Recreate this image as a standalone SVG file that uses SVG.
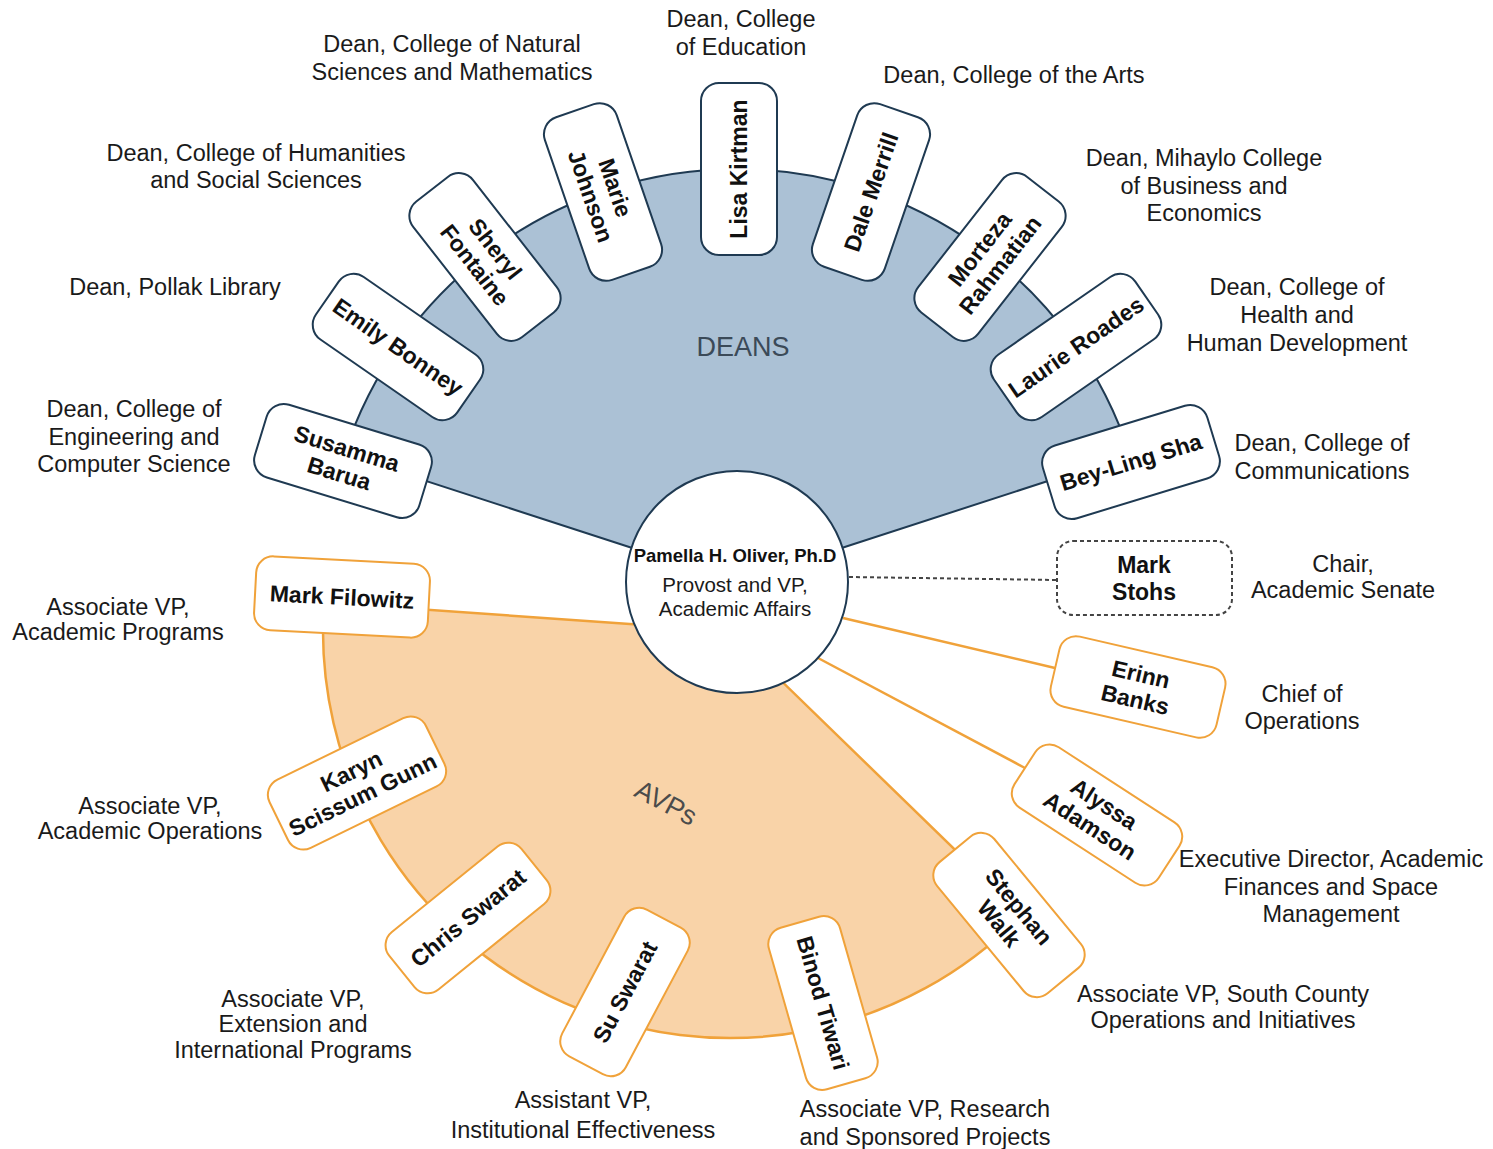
<svg xmlns="http://www.w3.org/2000/svg" width="1493" height="1149" viewBox="0 0 1493 1149">
<style>
.lbl{font-family:"Liberation Sans",Arial,sans-serif;font-size:23.5px;fill:#1a1a1a;text-anchor:middle}
.nm{font-family:"Liberation Sans",Arial,sans-serif;font-size:23px;font-weight:bold;fill:#111;text-anchor:middle}
.dean rect{fill:#fff;stroke:#1f3a52;stroke-width:2}
.avp rect{fill:#fff;stroke:#f0a23a;stroke-width:2}
.sect{font-family:"Liberation Sans",Arial,sans-serif;font-size:27px;text-anchor:middle}
</style>
<rect width="1493" height="1149" fill="#fff"/>
<g id="fans">
<path d="M737,582 L344.2,454.4 A413,413 0 0 1 1129.8,454.4 Z" fill="#abc1d5" stroke="#1f3a52" stroke-width="2"/>
<path d="M730,631 L324,602.6 A407,407 0 0 0 1021.8,914.8 Z" fill="#f9d3a8" stroke="#f0a23a" stroke-width="2.5"/>
<text class="sect" x="743" y="356" fill="#3b4a58">DEANS</text>
<text class="sect" transform="translate(666,803) rotate(28)" y="9" fill="#4b4b4b">AVPs</text>
</g>
<g id="connectors">
<line x1="843" y1="618" x2="1055" y2="668" stroke="#f0a23a" stroke-width="2.5"/>
<line x1="818" y1="658" x2="1025" y2="768" stroke="#f0a23a" stroke-width="2.5"/>
<line x1="849" y1="577" x2="1057" y2="580" stroke="#444" stroke-width="2" stroke-dasharray="4 3"/>
</g>
<g id="provost">
<circle cx="737" cy="582" r="111" fill="#fff" stroke="#1f3a52" stroke-width="2"/>
<text class="nm" x="735" y="562" style="font-size:18.5px">Pamella H. Oliver, Ph.D</text>
<text class="lbl" x="735" y="592" style="font-size:20.5px">Provost and VP,</text>
<text class="lbl" x="735" y="616" style="font-size:20.5px">Academic Affairs</text>
</g>
<g id="lisa-kirtman" class="dean" transform="translate(739,169) rotate(-90)"><rect x="-86" y="-38" width="172" height="76" rx="18"/><text class="nm" y="8">Lisa Kirtman</text></g>
<g id="marie-johnson" class="dean" transform="translate(603,192) rotate(71)"><rect x="-86" y="-38" width="172" height="76" rx="18"/><text class="nm" y="-5">Marie</text><text class="nm" y="21">Johnson</text></g>
<g id="sheryl-fontaine" class="dean" transform="translate(485,257) rotate(52)"><rect x="-86" y="-38" width="172" height="76" rx="18"/><text class="nm" y="-5">Sheryl</text><text class="nm" y="21">Fontaine</text></g>
<g id="emily-bonney" class="dean" transform="translate(398,347) rotate(34.7)"><rect x="-86" y="-38" width="172" height="76" rx="18"/><text class="nm" y="8">Emily Bonney</text></g>
<g id="susamma-barua" class="dean" transform="translate(343,461) rotate(17)"><rect x="-86" y="-38" width="172" height="76" rx="18"/><text class="nm" y="-5">Susamma</text><text class="nm" y="21">Barua</text></g>
<g id="dale-merrill" class="dean" transform="translate(871,192) rotate(-71)"><rect x="-86" y="-38" width="172" height="76" rx="18"/><text class="nm" y="8">Dale Merrill</text></g>
<g id="morteza-rahmatian" class="dean" transform="translate(990,257) rotate(-52)"><rect x="-86" y="-38" width="172" height="76" rx="18"/><text class="nm" y="-5">Morteza</text><text class="nm" y="21">Rahmatian</text></g>
<g id="laurie-roades" class="dean" transform="translate(1076,347) rotate(-34.7)"><rect x="-86" y="-38" width="172" height="76" rx="18"/><text class="nm" y="8">Laurie Roades</text></g>
<g id="bey-ling-sha" class="dean" transform="translate(1131,462) rotate(-17)"><rect x="-86" y="-38" width="172" height="76" rx="18"/><text class="nm" y="8">Bey-Ling Sha</text></g>
<g id="mark-filowitz" class="avp" transform="translate(342,597) rotate(3)"><rect x="-87" y="-37" width="174" height="74" rx="17"/><text class="nm" y="8">Mark Filowitz</text></g>
<g id="karyn-scissum-gunn" class="avp" transform="translate(357,783) rotate(-26)"><rect x="-87" y="-38" width="174" height="76" rx="17"/><text class="nm" y="-5">Karyn</text><text class="nm" y="21">Scissum Gunn</text></g>
<g id="chris-swarat" class="avp" transform="translate(468,918) rotate(-39)"><rect x="-85" y="-37" width="170" height="74" rx="17"/><text class="nm" y="8">Chris Swarat</text></g>
<g id="su-swarat" class="avp" transform="translate(625,992) rotate(-62)"><rect x="-83" y="-36" width="166" height="72" rx="17"/><text class="nm" y="8">Su Swarat</text></g>
<g id="binod-tiwari" class="avp" transform="translate(823,1003) rotate(74)"><rect x="-84" y="-37" width="168" height="74" rx="17"/><text class="nm" y="8">Binod Tiwari</text></g>
<g id="stephan-walk" class="avp" transform="translate(1009,915) rotate(50.5)"><rect x="-85" y="-37" width="170" height="74" rx="17"/><text class="nm" y="-5">Stephan</text><text class="nm" y="21">Walk</text></g>
<g id="erinn-banks" class="avp" transform="translate(1138,687) rotate(13)"><rect x="-85" y="-36" width="170" height="72" rx="17"/><text class="nm" y="-5">Erinn</text><text class="nm" y="21">Banks</text></g>
<g id="alyssa-adamson" class="avp" transform="translate(1097,815) rotate(33)"><rect x="-86" y="-36" width="172" height="72" rx="17"/><text class="nm" y="-5">Alyssa</text><text class="nm" y="21">Adamson</text></g>
<g id="mark-stohs"><rect x="1057" y="541" width="175" height="74" rx="16" fill="#fff" stroke="#444" stroke-width="2" stroke-dasharray="4 3"/><text class="nm" x="1144" y="573">Mark</text><text class="nm" x="1144" y="600">Stohs</text></g>
<g id="labels">
<text class="lbl" x="741" y="27">Dean, College</text><text class="lbl" x="741" y="55">of Education</text>
<text class="lbl" x="452" y="52">Dean, College of Natural</text><text class="lbl" x="452" y="80">Sciences and Mathematics</text>
<text class="lbl" x="1014" y="83">Dean, College of the Arts</text>
<text class="lbl" x="1204" y="166">Dean, Mihaylo College</text><text class="lbl" x="1204" y="194">of Business and</text><text class="lbl" x="1204" y="221">Economics</text>
<text class="lbl" x="256" y="161">Dean, College of Humanities</text><text class="lbl" x="256" y="188">and Social Sciences</text>
<text class="lbl" x="175" y="295">Dean, Pollak Library</text>
<text class="lbl" x="1297" y="295">Dean, College of</text><text class="lbl" x="1297" y="323">Health and</text><text class="lbl" x="1297" y="351">Human Development</text>
<text class="lbl" x="134" y="417">Dean, College of</text><text class="lbl" x="134" y="445">Engineering and</text><text class="lbl" x="134" y="472">Computer Science</text>
<text class="lbl" x="1322" y="451">Dean, College of</text><text class="lbl" x="1322" y="479">Communications</text>
<text class="lbl" x="1343" y="572">Chair,</text><text class="lbl" x="1343" y="598">Academic Senate</text>
<text class="lbl" x="1302" y="702">Chief of</text><text class="lbl" x="1302" y="729">Operations</text>
<text class="lbl" x="1331" y="867">Executive Director, Academic</text><text class="lbl" x="1331" y="895">Finances and Space</text><text class="lbl" x="1331" y="922">Management</text>
<text class="lbl" x="1223" y="1002">Associate VP, South County</text><text class="lbl" x="1223" y="1028">Operations and Initiatives</text>
<text class="lbl" x="925" y="1117">Associate VP, Research</text><text class="lbl" x="925" y="1145">and Sponsored Projects</text>
<text class="lbl" x="583" y="1108">Assistant VP,</text><text class="lbl" x="583" y="1138">Institutional Effectiveness</text>
<text class="lbl" x="293" y="1007">Associate VP,</text><text class="lbl" x="293" y="1032">Extension and</text><text class="lbl" x="293" y="1058">International Programs</text>
<text class="lbl" x="150" y="814">Associate VP,</text><text class="lbl" x="150" y="839">Academic Operations</text>
<text class="lbl" x="118" y="615">Associate VP,</text><text class="lbl" x="118" y="640">Academic Programs</text>
</g>
</svg>
